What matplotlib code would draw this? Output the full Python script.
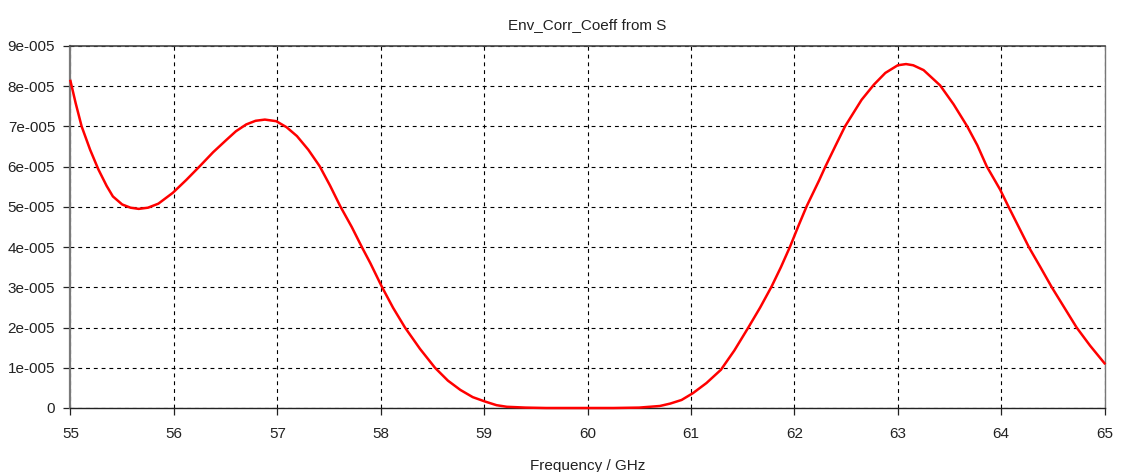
import numpy as np
import matplotlib
matplotlib.use("Agg")
import matplotlib.pyplot as plt

# Envelope correlation coefficient vs frequency (values in units of 1e-5)
freq_ghz = [
    55.00, 55.05, 55.108, 55.19, 55.27, 55.35, 55.41, 55.50, 55.58, 55.66,
    55.75, 55.85, 55.99, 56.12, 56.25, 56.38, 56.51, 56.60, 56.70, 56.79,
    56.88, 56.99, 57.09, 57.19, 57.30, 57.41, 57.51, 57.61, 57.72, 57.82,
    57.90, 58.01, 58.12, 58.235, 58.38, 58.525, 58.65, 58.77, 58.89, 59.01,
    59.12, 59.22, 59.40, 59.60, 60.00, 60.25, 60.50, 60.70, 60.80, 60.91,
    61.02, 61.15, 61.29, 61.42, 61.555, 61.67, 61.78, 61.87, 61.96, 62.04,
    62.12, 62.24, 62.30, 62.40, 62.49, 62.65, 62.77, 62.88, 63.00, 63.08,
    63.15, 63.25, 63.41, 63.54, 63.67, 63.77, 63.86, 63.99, 64.07, 64.17,
    64.27, 64.38, 64.49, 64.61, 64.73, 64.86, 65.00,
]
ecc_e5 = [
    8.13, 7.58, 7.00, 6.42, 5.93, 5.52, 5.26, 5.06, 4.98, 4.95,
    4.98, 5.08, 5.35, 5.67, 6.01, 6.36, 6.67, 6.88, 7.05, 7.14,
    7.17, 7.13, 6.98, 6.76, 6.42, 6.01, 5.53, 5.01, 4.50, 3.99,
    3.60, 3.02, 2.49, 2.00, 1.47, 1.00, 0.68, 0.45, 0.27, 0.16,
    0.07, 0.03, 0.01, 0.00, 0.00, 0.00, 0.01, 0.05, 0.11, 0.20,
    0.37, 0.62, 0.95, 1.43, 2.00, 2.50, 3.02, 3.50, 4.02, 4.53,
    5.02, 5.66, 6.00, 6.53, 7.00, 7.66, 8.04, 8.33, 8.52, 8.55,
    8.52, 8.40, 8.02, 7.55, 7.01, 6.53, 6.01, 5.43, 5.01, 4.50,
    3.99, 3.50, 3.00, 2.50, 2.00, 1.55, 1.11,
]

x_ticks = [55, 56, 57, 58, 59, 60, 61, 62, 63, 64, 65]
y_ticks = [0, 1e-5, 2e-5, 3e-5, 4e-5, 5e-5, 6e-5, 7e-5, 8e-5, 9e-5]
y_tick_labels = ["0", "1e-005", "2e-005", "3e-005", "4e-005",
                 "5e-005", "6e-005", "7e-005", "8e-005", "9e-005"]

plt.rcParams["font.family"] = ["Liberation Sans", "DejaVu Sans"]

fig = plt.figure(figsize=(11.24, 4.72), dpi=100)
ax = fig.add_axes([0.0627, 0.1356, 0.92, 0.767])

ax.plot(freq_ghz, np.array(ecc_e5) * 1e-5, color="#ff0000", linewidth=1.8,
        clip_on=False, zorder=3)

ax.set_xlim(55, 65)
ax.set_ylim(0, 9e-5)
ax.set_xticks(x_ticks)
ax.set_xticklabels([str(t) for t in x_ticks])
ax.set_yticks(y_ticks)
ax.set_yticklabels(y_tick_labels)

ax.grid(True, color="black", linestyle=(0, (3.5, 3.5)), linewidth=0.8)
ax.tick_params(axis="both", direction="out", length=5, width=0.9,
               colors="#222222", labelsize=11, pad=6)
ax.tick_params(axis="x", pad=9)

ax.spines["left"].set_color("#7a7a7a")
ax.spines["left"].set_linewidth(1.6)
ax.spines["bottom"].set_color("#222222")
ax.spines["bottom"].set_linewidth(1.0)
ax.spines["top"].set_color("#444444")
ax.spines["top"].set_linewidth(1.2)
ax.spines["right"].set_color("#777777")
ax.spines["right"].set_linewidth(1.0)

ax.set_title("Env_Corr_Coeff from S", fontsize=11, color="#222222", pad=12)
ax.set_xlabel("Frequency / GHz", fontsize=11, color="#222222", labelpad=13)

fig.savefig("out.png", dpi=100)
